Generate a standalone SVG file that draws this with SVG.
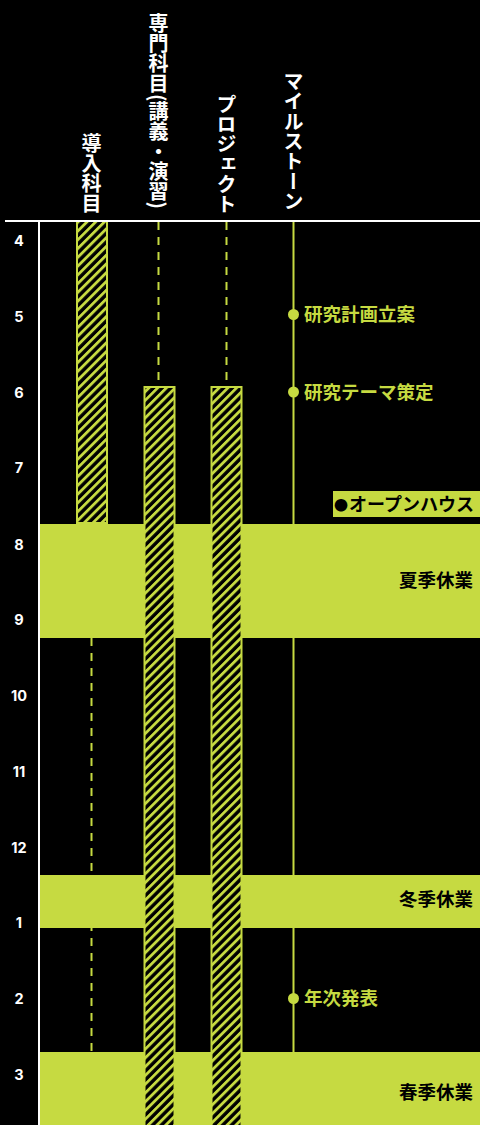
<svg xmlns="http://www.w3.org/2000/svg" width="480" height="1125" viewBox="0 0 480 1125">
<defs>
<style>
.hdr{font-family:"Noto Sans CJK JP","Noto Sans",sans-serif;font-weight:700;font-size:20px;fill:#fff;writing-mode:vertical-rl;text-anchor:end}
.mon{font-family:"Inter","Noto Sans","Liberation Sans",sans-serif;font-weight:700;font-size:14.5px;fill:#fff;text-anchor:middle}
.ms{font-family:"Noto Sans CJK JP",sans-serif;font-weight:700;font-size:18.5px;fill:#c6da41}
.brk{font-family:"Noto Sans CJK JP",sans-serif;font-weight:700;font-size:18.5px;fill:#000;text-anchor:end}
.band{fill:#c6da41}
.bar{fill:url(#hatch);stroke:#c6da41;stroke-width:2}
.dash{stroke:#c6da41;stroke-width:2;stroke-dasharray:8 7;fill:none}
.solid{stroke:#c6da41;stroke-width:2;fill:none}
.dot{fill:#c6da41}
</style>
<pattern id="hatch" width="6.2" height="6.2" patternUnits="userSpaceOnUse" patternTransform="rotate(45)">
<rect width="6.2" height="6.2" fill="#000"/>
<rect width="2.8" height="6.2" fill="#c6da41"/>
</pattern>
</defs>
<rect width="480" height="1125" fill="#000"/>

<g id="headers">
<text class="hdr" x="91.5" y="213">導入科目</text>
<text class="hdr" x="158.5" y="209">専門科目(講義・演習)</text>
<text class="hdr" x="226.5" y="214">プロジェクト</text>
<text class="hdr" x="293.5" y="211">マイルストーン</text>
</g>

<g id="months">
<text class="mon" x="19" y="246">4</text>
<text class="mon" x="19" y="322">5</text>
<text class="mon" x="19" y="398">6</text>
<text class="mon" x="19" y="473">7</text>
<text class="mon" x="19" y="550">8</text>
<text class="mon" x="19" y="625">9</text>
<text class="mon" x="19" y="701">10</text>
<text class="mon" x="19" y="777">11</text>
<text class="mon" x="19" y="853">12</text>
<text class="mon" x="19" y="928">1</text>
<text class="mon" x="19" y="1004">2</text>
<text class="mon" x="19" y="1080">3</text>
</g>

<g id="connectors">
<line class="dash" x1="158.5" y1="222" x2="158.5" y2="386"/>
<line class="dash" x1="226.5" y1="222" x2="226.5" y2="386"/>
<line class="dash" x1="91.5" y1="638" x2="91.5" y2="1052"/>
<line class="solid" x1="293.5" y1="222" x2="293.5" y2="1052"/>
</g>

<g id="breaks">
<rect class="band" x="40" y="524" width="440" height="114"/>
<rect class="band" x="40" y="875" width="440" height="53"/>
<rect class="band" x="40" y="1052" width="440" height="73"/>
<text class="brk" x="473" y="587">夏季休業</text>
<text class="brk" x="473" y="906">冬季休業</text>
<text class="brk" x="473" y="1099">春季休業</text>
</g>

<g id="bar-intro">
<rect class="bar" x="77" y="221" width="30" height="302"/>
</g>
<g id="bar-senmon">
<rect class="bar" x="144.5" y="387" width="30" height="740"/>
</g>
<g id="bar-project">
<rect class="bar" x="211.5" y="387" width="30" height="740"/>
</g>

<g id="milestones">
<circle class="dot" cx="293.5" cy="314.5" r="5.5"/>
<text class="ms" x="304" y="321">研究計画立案</text>
<circle class="dot" cx="293.5" cy="392" r="5.5"/>
<text class="ms" x="304" y="398.5">研究テーマ策定</text>
<circle class="dot" cx="293.5" cy="998.5" r="5.5"/>
<text class="ms" x="304" y="1005">年次発表</text>
</g>

<g id="openhouse">
<rect x="333" y="491" width="147" height="26" fill="#c6da41"/>
<text x="334" y="510.5" font-family="Noto Sans CJK JP, sans-serif" font-weight="700" font-size="18" fill="#000"><tspan font-size="14" dy="-1">●</tspan><tspan dy="1" dx="1">オープンハウス</tspan></text>
</g>

<g id="axes">
<line x1="5" y1="221" x2="480" y2="221" stroke="#fff" stroke-width="2"/>
<line x1="39" y1="221" x2="39" y2="1125" stroke="#fff" stroke-width="2"/>
</g>
</svg>
